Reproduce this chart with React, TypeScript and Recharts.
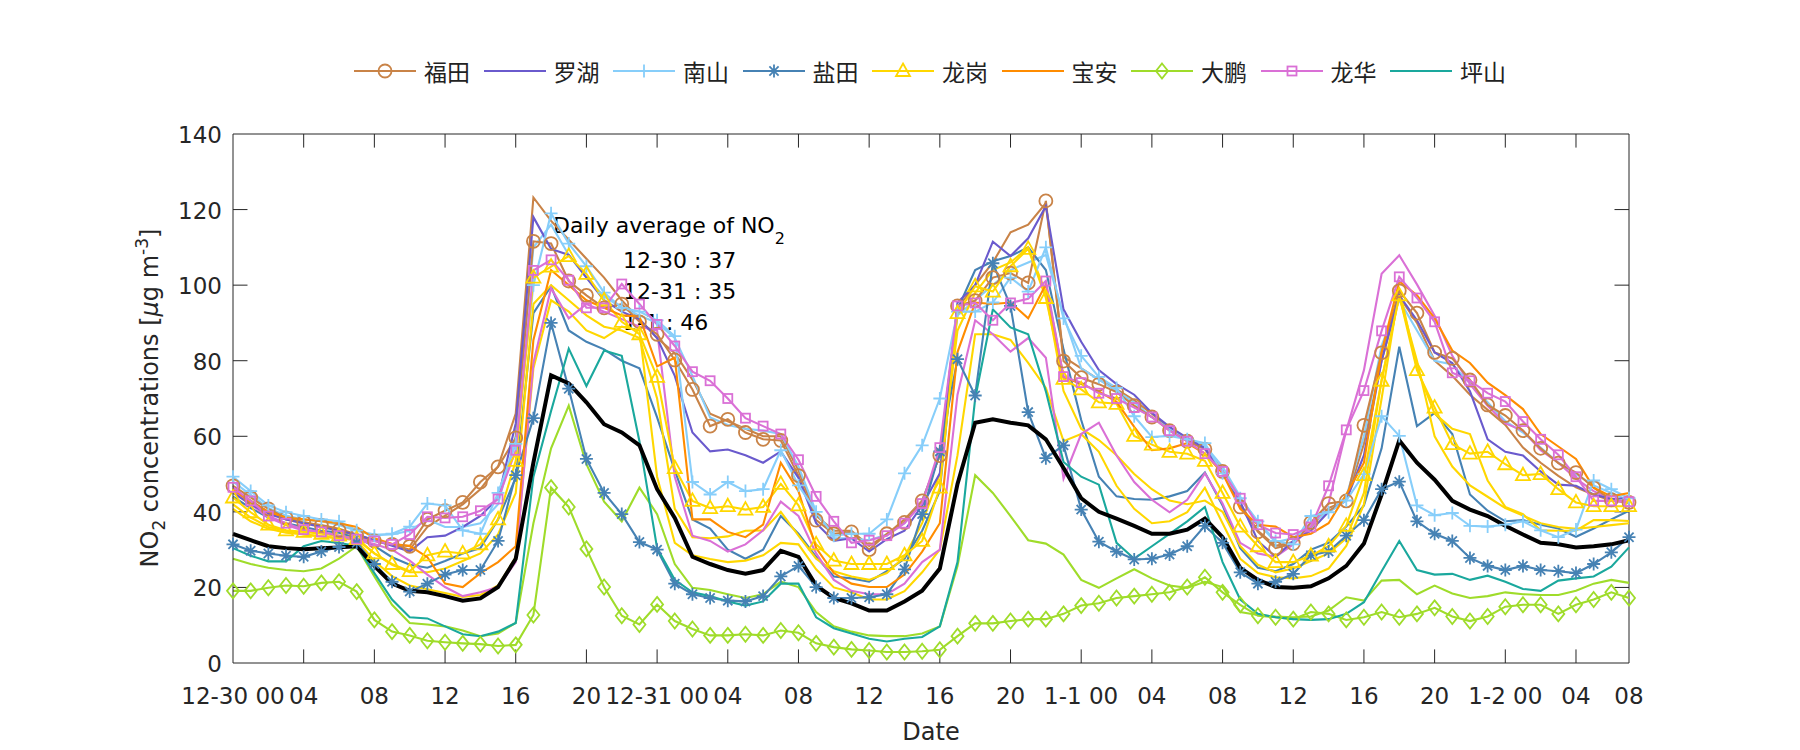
import React from 'react'
import { LineChart, Line, XAxis, YAxis, ReferenceLine } from 'recharts'

// ============================================
// Hourly NO2 (ug/m3), 12-30 00:00 -> 1-2 07:00, 80 points per line
// ============================================

const FUTIAN = [
  46.9, 43.8, 40.8, 38.4, 37.3, 36.4, 35.1, 33.7, 32.3, 31.4, 30.9, 38.0, 40.3, 42.5, 47.9, 51.9, 59.6, 111.6, 111.0, 101.1, 97.3,
  94.0, 95.0, 90.3, 87.0, 80.2, 72.4, 62.7, 64.5, 61.0, 59.2, 58.9, 49.6, 37.8, 34.2, 34.7, 30.0, 34.2, 37.2, 42.9, 54.9,
  94.5, 95.9, 102.0, 103.2, 100.6, 122.3, 79.9, 75.5, 73.8, 71.7, 68.1, 65.1, 61.5, 58.7, 56.6, 50.7, 41.3, 34.7, 30.4, 31.6,
  37.2, 42.2, 42.9, 62.9, 82.1, 98.5, 92.6, 82.2, 80.6, 74.9, 68.3, 65.5, 61.5, 56.8, 52.9, 50.4, 46.4, 43.2, 42.5,
]
const LUOHU = [
  45.0, 42.0, 39.5, 38.0, 37.0, 36.0, 35.0, 34.0, 32.5, 31.0, 29.5, 33.3, 33.7, 36.0, 38.9, 43.6, 63.4, 118.0, 109.6, 108.0, 102.0,
  96.0, 93.0, 91.0, 86.0, 76.0, 61.0, 56.0, 56.5, 55.0, 53.0, 56.0, 49.0, 37.0, 32.3, 33.0, 29.5, 32.8, 35.0, 41.7, 50.2,
  95.4, 100.0, 111.5, 107.7, 112.4, 120.9, 93.6, 85.0, 77.5, 73.8, 71.0, 66.2, 62.5, 59.6, 56.8, 50.2, 42.7, 32.3, 28.1, 32.3,
  35.0, 40.0, 43.0, 55.0, 80.0, 97.3, 90.7, 82.2, 79.4, 71.9, 59.2, 55.9, 54.9, 50.7, 47.2, 46.9, 44.6, 43.4, 43.6,
]
const NANSHAN = [
  49.3, 45.5, 41.7, 39.9, 38.9, 38.0, 37.5, 35.1, 33.7, 34.2, 36.1, 42.2, 41.7, 35.1, 34.2, 45.0, 58.0, 100.0, 119.0, 111.0, 105.0,
  98.0, 94.0, 93.0, 90.7, 86.5, 47.9, 44.6, 47.9, 45.5, 46.0, 56.3, 47.0, 40.0, 33.7, 34.2, 34.2, 38.0, 50.2, 57.6, 70.0,
  93.0, 93.0, 95.4, 102.0, 98.3, 110.0, 91.2, 81.3, 75.7, 72.8, 65.3, 59.8, 60.1, 59.2, 58.2, 50.2, 43.6, 37.5, 32.3, 31.4,
  38.9, 39.9, 43.0, 50.0, 65.3, 60.1, 41.7, 39.1, 39.7, 36.3, 36.1, 36.6, 37.5, 35.1, 33.3, 35.3, 48.3, 46.0, 43.6,
]
const YANTIAN = [
  31.4, 29.7, 29.0, 28.4, 28.1, 29.5, 30.7, 31.8, 26.2, 21.5, 18.9, 21.0, 23.4, 24.6, 24.6, 32.3, 49.7, 64.8, 90.0, 72.6, 54.0,
  45.0, 39.4, 32.0, 30.0, 21.0, 18.2, 17.2, 16.5, 16.3, 17.7, 22.9, 25.7, 20.1, 17.2, 17.2, 17.4, 18.2, 24.8, 39.4, 56.0,
  80.4, 70.8, 105.8, 94.5, 66.4, 54.2, 57.6, 40.6, 32.1, 29.5, 27.4, 27.6, 28.7, 30.9, 36.3, 31.8, 24.0, 21.0, 21.5, 23.6,
  28.5, 29.5, 33.7, 37.8, 46.0, 48.0, 37.5, 34.2, 32.3, 27.8, 25.7, 24.6, 25.7, 24.6, 24.3, 23.8, 26.2, 29.3, 33.3,
]
const LONGGANG = [
  43.8, 39.9, 36.6, 35.1, 34.7, 34.2, 33.7, 32.8, 29.0, 26.2, 24.3, 28.5, 29.5, 29.0, 31.4, 38.0, 53.5, 102.0, 104.9, 107.7, 103.0,
  96.0, 90.3, 87.0, 75.7, 51.6, 42.9, 41.0, 41.5, 40.6, 41.3, 47.4, 41.7, 31.4, 27.1, 26.2, 26.2, 26.2, 28.5, 32.3, 46.4,
  92.6, 99.7, 98.3, 105.0, 109.6, 96.6, 75.2, 72.4, 69.0, 68.6, 60.1, 57.8, 55.9, 55.4, 53.5, 45.0, 36.1, 30.9, 26.7, 26.7,
  28.4, 30.9, 36.3, 49.7, 74.7, 97.3, 77.5, 67.6, 57.9, 55.4, 55.9, 52.6, 49.7, 50.0, 46.0, 42.5, 41.5, 41.5, 41.5,
]
const BAOAN = [
  46.0, 42.5, 40.0, 38.5, 38.0, 37.5, 37.0, 36.0, 33.0, 31.5, 31.0, 28.0, 21.0, 20.1, 23.8, 26.7, 30.9, 85.5, 104.0, 100.0, 96.0,
  94.0, 92.0, 91.7, 78.5, 80.8, 38.0, 38.0, 34.7, 33.3, 36.6, 53.0, 45.5, 30.4, 23.8, 21.0, 20.1, 20.1, 23.4, 29.5, 37.0,
  82.3, 95.4, 95.0, 95.4, 91.2, 100.2, 75.7, 73.8, 71.9, 69.1, 62.5, 56.3, 56.8, 58.2, 55.4, 50.2, 40.8, 36.6, 36.1, 33.3,
  34.2, 37.0, 44.6, 53.0, 82.3, 101.0, 97.3, 91.2, 82.7, 79.4, 74.2, 70.9, 67.2, 60.6, 57.3, 54.0, 46.4, 44.1, 45.0,
]
const DAPENG = [
  19.1, 19.1, 19.9, 20.5, 20.3, 21.2, 21.5, 18.9, 11.4, 8.3, 7.3, 5.9, 5.5, 5.2, 5.0, 4.5, 4.8, 12.7, 46.4, 41.3, 30.2,
  20.1, 12.5, 10.2, 15.5, 11.1, 9.0, 7.3, 7.3, 7.6, 7.3, 8.6, 8.0, 5.2, 4.2, 3.6, 3.3, 2.9, 2.9, 3.1, 3.5,
  7.1, 10.5, 10.5, 11.1, 11.6, 11.6, 13.0, 15.2, 15.8, 17.2, 17.7, 18.2, 18.7, 20.1, 22.7, 18.7, 15.4, 12.5, 12.1, 11.6,
  13.5, 13.0, 11.4, 12.1, 13.5, 12.1, 13.0, 14.6, 12.3, 11.1, 12.3, 14.9, 15.4, 15.4, 13.0, 15.4, 16.8, 18.7, 17.2,
]
const LONGHUA = [
  46.5, 42.9, 38.9, 37.0, 35.3, 34.7, 33.7, 32.8, 32.3, 31.4, 34.0, 38.7, 38.4, 38.7, 40.3, 43.4, 56.3, 103.9, 106.7, 101.3, 94.0,
  94.0, 100.3, 95.0, 89.6, 83.9, 77.1, 74.7, 70.0, 64.8, 62.7, 60.6, 53.8, 44.1, 37.5, 31.8, 32.5, 33.7, 37.0, 42.2, 57.0,
  94.5, 95.3, 90.7, 95.3, 96.4, 101.1, 75.8, 74.2, 71.4, 70.0, 67.6, 65.1, 61.5, 58.7, 55.4, 50.7, 43.6, 36.6, 34.4, 34.0,
  36.0, 46.9, 61.7, 72.1, 87.9, 102.2, 96.6, 90.3, 76.8, 74.7, 71.4, 69.2, 63.9, 59.2, 55.1, 49.3, 42.9, 42.9, 42.7,
]
const PINGSHAN = [
  30.4, 28.4, 26.9, 26.9, 30.9, 32.3, 31.8, 30.9, 23.8, 16.8, 12.1, 11.8, 9.7, 7.6, 7.1, 8.3, 10.6, 49.3, 66.7, 83.2, 73.3,
  82.7, 81.3, 58.7, 30.4, 22.0, 18.7, 17.7, 16.3, 15.2, 16.3, 21.0, 21.0, 12.1, 9.2, 7.8, 6.4, 5.7, 6.4, 6.9, 9.7,
  26.7, 70.0, 93.6, 88.8, 87.0, 71.9, 53.2, 49.3, 47.2, 31.8, 27.6, 30.9, 34.2, 37.5, 41.3, 26.7, 16.8, 13.0, 12.1, 11.6,
  11.4, 11.6, 13.0, 16.1, 24.3, 32.3, 24.6, 23.4, 23.6, 22.0, 23.1, 21.5, 19.6, 19.1, 21.8, 22.4, 22.9, 25.5, 30.6,
]

// second stations of some districts (drawn without markers)
const FUTIAN_2 = [
  46.0, 43.0, 40.0, 38.0, 37.0, 36.5, 35.5, 34.0, 32.5, 31.5, 30.0, 36.0, 39.0, 42.0, 46.0, 52.0, 66.0, 123.2, 117.0, 112.0, 107.0,
  102.0, 96.0, 91.0, 86.0, 82.0, 75.0, 66.0, 64.0, 62.0, 60.0, 60.0, 51.0, 39.0, 35.0, 35.0, 31.0, 34.0, 38.0, 43.0, 55.0,
  94.0, 100.0, 106.0, 114.0, 116.0, 121.7, 81.0, 78.0, 75.0, 72.5, 69.5, 66.0, 62.0, 59.0, 57.0, 51.0, 42.0, 35.0, 31.0, 32.0,
  36.0, 41.0, 43.0, 58.0, 80.0, 97.0, 90.0, 80.0, 76.0, 71.0, 67.0, 63.0, 57.0, 53.0, 49.5, 46.5, 44.5, 43.0, 42.5,
]
const NANSHAN_2 = [
  48.0, 44.5, 41.0, 39.0, 38.0, 37.5, 36.5, 35.0, 34.0, 34.0, 35.0, 38.0, 36.0, 36.0, 37.0, 42.0, 60.0, 110.0, 116.0, 108.0, 102.0,
  97.0, 94.0, 92.0, 90.0, 86.0, 76.0, 65.0, 63.0, 62.0, 61.5, 60.6, 52.0, 40.0, 33.0, 33.0, 32.5, 34.0, 37.0, 43.0, 55.0,
  92.0, 96.0, 100.0, 104.0, 106.0, 108.0, 92.0, 78.0, 75.0, 72.0, 69.0, 65.0, 62.0, 59.5, 57.5, 52.0, 44.0, 37.0, 32.0, 33.0,
  37.0, 40.0, 44.0, 60.0, 84.0, 96.0, 88.0, 80.0, 79.0, 74.0, 69.0, 64.0, 61.0, 57.0, 53.0, 50.0, 47.0, 45.0, 43.0,
]
const YANTIAN_2 = [
  44.0, 41.0, 38.5, 37.0, 36.0, 35.0, 34.5, 33.0, 31.0, 28.0, 26.0, 25.2, 27.0, 29.0, 30.4, 38.0, 49.0, 92.6, 99.7, 88.0, 85.0,
  83.0, 80.0, 78.0, 65.0, 51.0, 38.0, 35.6, 30.0, 27.6, 30.0, 38.9, 34.2, 28.1, 22.9, 22.4, 21.5, 24.3, 27.6, 35.0, 45.5,
  93.6, 104.0, 106.3, 107.7, 110.0, 104.0, 83.0, 64.3, 49.3, 44.1, 43.4, 43.2, 44.1, 45.5, 50.4, 41.7, 30.4, 25.2, 24.3, 26.2,
  30.0, 31.8, 36.1, 41.7, 56.8, 83.7, 62.7, 66.2, 60.6, 44.6, 40.3, 37.5, 37.8, 36.6, 35.6, 33.4, 35.6, 38.0, 40.3,
]
const LONGGANG_2 = [
  40.8, 37.5, 35.5, 34.5, 34.0, 33.5, 33.0, 32.5, 27.0, 23.0, 20.5, 19.5, 18.5, 17.5, 18.0, 20.5, 28.0, 78.0, 96.0, 93.0, 88.0,
  86.0, 89.0, 88.0, 49.3, 31.8, 28.5, 27.5, 26.7, 27.1, 28.5, 31.8, 31.4, 24.8, 20.0, 18.7, 16.8, 16.8, 19.0, 24.0, 30.0,
  55.0, 87.0, 87.0, 85.5, 79.4, 72.8, 58.7, 60.6, 55.9, 46.9, 40.8, 37.0, 37.5, 39.9, 46.4, 37.0, 27.6, 23.8, 22.7, 22.4,
  23.0, 25.0, 31.0, 42.0, 70.0, 99.0, 78.0, 66.0, 62.0, 60.6, 48.3, 41.3, 39.4, 35.1, 35.0, 35.0, 37.8, 37.8, 37.6,
]
const LONGGANG_3 = [
  42.0, 38.5, 36.0, 35.0, 34.0, 33.5, 33.0, 33.0, 29.0, 26.0, 24.0, 24.0, 25.0, 27.0, 29.0, 34.0, 45.0, 95.0, 100.0, 96.0, 92.0,
  89.0, 88.0, 86.0, 70.0, 40.8, 33.3, 33.0, 33.5, 35.0, 35.1, 40.0, 33.7, 27.6, 24.3, 22.9, 22.0, 23.8, 28.1, 37.0, 50.0,
  88.0, 98.0, 104.0, 106.0, 110.0, 98.0, 72.0, 62.0, 59.0, 55.0, 50.0, 46.0, 43.0, 42.0, 43.0, 40.0, 31.0, 26.0, 24.0, 25.0,
  27.0, 29.0, 33.0, 45.0, 75.0, 97.0, 80.0, 60.0, 52.0, 47.0, 44.0, 41.0, 39.0, 37.0, 36.0, 35.5, 36.0, 36.5, 37.0,
]
const LONGHUA_2 = [
  45.5, 42.0, 38.5, 36.5, 35.0, 34.5, 33.5, 32.5, 31.5, 30.0, 27.1, 23.4, 20.1, 17.7, 18.7, 20.1, 26.7, 79.4, 99.2, 91.2, 95.0,
  93.0, 91.0, 89.0, 88.0, 49.3, 33.7, 32.3, 29.5, 31.4, 35.1, 42.7, 38.9, 29.0, 22.0, 19.1, 18.2, 18.2, 21.0, 26.7, 30.0,
  71.0, 90.7, 87.0, 82.4, 86.0, 80.8, 48.8, 60.6, 63.6, 54.9, 47.9, 43.2, 39.9, 43.2, 50.2, 42.2, 31.8, 29.0, 28.1, 31.4,
  36.1, 42.2, 61.5, 77.5, 103.0, 107.9, 100.2, 91.9, 81.3, 73.8, 68.1, 63.4, 61.5, 56.3, 53.0, 48.8, 45.5, 43.2, 42.2,
]
const DAPENG_2 = [
  27.6, 26.2, 25.2, 24.6, 24.3, 25.0, 27.6, 30.9, 22.9, 15.4, 10.6, 10.2, 9.7, 8.6, 7.1, 7.8, 10.6, 37.0, 56.8, 68.1, 52.6,
  42.7, 37.5, 46.4, 39.4, 26.2, 19.9, 19.3, 18.2, 17.2, 18.2, 21.5, 20.1, 13.5, 9.7, 8.3, 7.3, 7.1, 7.1, 7.8, 9.7,
  25.7, 49.7, 45.0, 38.9, 32.5, 31.6, 28.7, 22.0, 19.9, 22.4, 24.8, 22.4, 20.5, 19.9, 21.5, 20.1, 13.5, 12.7, 12.3, 12.1,
  12.3, 13.9, 17.4, 16.5, 21.8, 22.0, 18.2, 20.5, 18.4, 17.2, 17.7, 18.7, 18.2, 18.0, 18.0, 19.1, 21.0, 22.0, 21.2,
]

// city-wide mean (thick black)
const CITY_MEAN = [
  34.2, 32.5, 30.9, 30.4, 30.1, 30.4, 30.6, 30.9, 25.7, 21.0, 19.1, 18.7, 17.7, 16.5, 17.1, 20.1, 27.6, 53.0, 76.1, 74.0, 69.0,
  63.2, 61.0, 57.6, 46.0, 38.4, 28.1, 26.2, 24.6, 23.6, 24.6, 29.7, 28.1, 20.5, 17.2, 15.8, 13.9, 13.9, 16.3, 19.1, 25.0,
  47.4, 63.6, 64.5, 63.6, 62.9, 59.2, 51.6, 43.6, 40.0, 38.2, 36.3, 34.2, 34.2, 35.3, 38.2, 33.3, 25.2, 22.0, 20.1, 19.9,
  20.3, 22.4, 25.7, 31.6, 44.6, 58.9, 53.0, 48.5, 42.9, 40.6, 38.9, 36.3, 34.0, 31.8, 31.4, 30.6, 30.9, 31.4, 32.5,
]

const TICK_HOURS = [0, 4, 8, 12, 16, 20, 24, 28, 32, 36, 40, 44, 48, 52, 56, 60, 64, 68, 72, 76, 79]
const TICK_LABELS = [
  '12-30 00', '04', '08', '12', '16', '20',
  '12-31 00', '04', '08', '12', '16', '20',
  '1-1 00', '04', '08', '12', '16', '20',
  '1-2 00', '04', '08',
]
const Y_TICKS = [0, 20, 40, 60, 80, 100, 120, 140]
const DAILY_MEANS: Array<[string, number]> = [['12-30', 37], ['12-31', 35], ['1-1', 46]]

// ============================================
// Styling
// ============================================

const AXIS = '#262626'
const FONT = '"DejaVu Sans", "Liberation Sans", sans-serif'
const CJK = '"Noto Sans CJK SC", "Noto Sans", sans-serif'

type MarkerKind = 'circle' | 'plus' | 'star' | 'triangle' | 'diamond' | 'square' | null

interface Series {
  key: string
  name?: string
  color: string
  marker: MarkerKind
  values: number[]
  width?: number
}

const MAIN: Series[] = [
  { key: 'futian', name: '福田', color: '#c98347', marker: 'circle', values: FUTIAN },
  { key: 'luohu', name: '罗湖', color: '#6a5acd', marker: null, values: LUOHU },
  { key: 'nanshan', name: '南山', color: '#87cefa', marker: 'plus', values: NANSHAN },
  { key: 'yantian', name: '盐田', color: '#4682b4', marker: 'star', values: YANTIAN },
  { key: 'longgang', name: '龙岗', color: '#ffd700', marker: 'triangle', values: LONGGANG },
  { key: 'baoan', name: '宝安', color: '#ff8c00', marker: null, values: BAOAN },
  { key: 'dapeng', name: '大鹏', color: '#9fdc2a', marker: 'diamond', values: DAPENG },
  { key: 'longhua', name: '龙华', color: '#da70d6', marker: 'square', values: LONGHUA },
  { key: 'pingshan', name: '坪山', color: '#1aa89d', marker: null, values: PINGSHAN },
]

const EXTRA: Series[] = [
  { key: 'futian2', color: '#c98347', marker: null, values: FUTIAN_2 },
  { key: 'nanshan2', color: '#87cefa', marker: null, values: NANSHAN_2 },
  { key: 'yantian2', color: '#4682b4', marker: null, values: YANTIAN_2 },
  { key: 'longgang2', color: '#ffd700', marker: null, values: LONGGANG_2 },
  { key: 'longgang3', color: '#ffd700', marker: null, values: LONGGANG_3 },
  { key: 'longhua2', color: '#da70d6', marker: null, values: LONGHUA_2 },
  { key: 'dapeng2', color: '#9fdc2a', marker: null, values: DAPENG_2 },
]

const MEAN: Series = { key: 'mean', color: '#000000', marker: null, values: CITY_MEAN, width: 4 }

const ALL = [...EXTRA, ...MAIN, MEAN]

const rows = CITY_MEAN.map((_, i) => {
  const row: Record<string, number> = { h: i }
  ALL.forEach(s => { row[s.key] = s.values[i] })
  return row
})

// ============================================
// Markers
// ============================================

function Marker({ kind, cx, cy, color }: { kind: MarkerKind; cx?: number; cy?: number; color: string }) {
  if (kind == null || cx == null || cy == null) return null
  const common = { fill: 'none', stroke: color, strokeWidth: 1.8 }
  switch (kind) {
    case 'circle':
      return <circle cx={cx} cy={cy} r={6.5} {...common} />
    case 'plus':
      return <path d={`M${cx - 6.5},${cy}H${cx + 6.5}M${cx},${cy - 6.5}V${cy + 6.5}`} {...common} />
    case 'star':
      return (
        <path
          d={`M${cx - 6.5},${cy}H${cx + 6.5}M${cx},${cy - 6.5}V${cy + 6.5}M${cx - 4.6},${cy - 4.6}L${cx + 4.6},${cy + 4.6}M${cx - 4.6},${cy + 4.6}L${cx + 4.6},${cy - 4.6}`}
          {...common}
        />
      )
    case 'triangle':
      return <path d={`M${cx},${cy - 7.5}L${cx + 7},${cy + 5}L${cx - 7},${cy + 5}Z`} {...common} />
    case 'diamond':
      return <path d={`M${cx},${cy - 7.5}L${cx + 6},${cy}L${cx},${cy + 7.5}L${cx - 6},${cy}Z`} {...common} />
    case 'square':
      return <rect x={cx - 4.5} y={cy - 4.5} width={9} height={9} {...common} />
  }
  return null
}

const dotFor = (s: Series) =>
  s.marker
    ? (p: any) => <Marker key={`${s.key}-${p.index}`} kind={s.marker} cx={p.cx} cy={p.cy} color={s.color} />
    : false

const XTick = (p: any) => {
  const i = TICK_HOURS.indexOf(p.payload.value)
  return (
    <text x={p.x} y={p.y + 41} textAnchor="middle" fontSize={23} fontFamily={FONT} fill={AXIS}>
      {TICK_LABELS[i]}
    </text>
  )
}

const YTick = (p: any) => (
  <text x={p.x - 11} y={p.y + 9} textAnchor="end" fontSize={23} fontFamily={FONT} fill={AXIS}>
    {p.payload.value}
  </text>
)

// ============================================
// Main Component
// ============================================

export default function App() {
  const inX = 0.82
  const inY = 3.6

  return (
    <div style={{ position: 'absolute', left: 0, top: 0, width: 1800, height: 750, background: '#fff', overflow: 'hidden' }}>
      {/* texts under the lines */}
      <svg width={1800} height={750} style={{ position: 'absolute', left: 0, top: 0 }}>
        <g fontFamily={FONT} fill="#000">
          <text x={553} y={233} fontSize={22}>
            Daily average of NO<tspan dy={11} fontSize={16}>2</tspan>
          </text>
          {DAILY_MEANS.map(([day, v], i) => (
            <text key={day} x={623} y={268 + i * 31} fontSize={22}>
              {`${day} : ${v}`}
            </text>
          ))}
        </g>
        <g fontFamily={FONT} fill={AXIS}>
          <text x={931} y={740} fontSize={24} textAnchor="middle">Date</text>
          <text x={158} y={398} fontSize={24} textAnchor="middle" transform="rotate(-90 158 398)">
            NO<tspan dy={7} fontSize={17}>2</tspan>
            <tspan dy={-7}> concentrations [</tspan>
            <tspan fontStyle="italic">μ</tspan>
            <tspan>g m</tspan>
            <tspan dy={-10} fontSize={17}>-3</tspan>
            <tspan dy={10}>]</tspan>
          </text>
        </g>
      </svg>

      <div style={{ position: 'absolute', left: 0, top: 0 }}>
        <LineChart width={1800} height={750} data={rows} margin={{ top: 134, right: 171, bottom: 27, left: 153 }}>
          <XAxis
            dataKey="h"
            type="number"
            domain={[0, 79]}
            ticks={TICK_HOURS}
            interval={0}
            height={60}
            tickSize={0}
            tickMargin={0}
            tickLine={false}
            axisLine={{ stroke: AXIS }}
            tick={XTick}
          />
          <YAxis
            type="number"
            domain={[0, 140]}
            ticks={Y_TICKS}
            interval={0}
            width={80}
            tickSize={0}
            tickMargin={0}
            tickLine={false}
            axisLine={{ stroke: AXIS }}
            tick={YTick}
          />

          {/* box + inward ticks */}
          <ReferenceLine y={140} stroke={AXIS} />
          <ReferenceLine x={79} stroke={AXIS} />
          {TICK_HOURS.slice(1, -1).map(t => (
            <ReferenceLine key={`b${t}`} segment={[{ x: t, y: 0 }, { x: t, y: inY }]} stroke={AXIS} />
          ))}
          {TICK_HOURS.slice(1, -1).map(t => (
            <ReferenceLine key={`t${t}`} segment={[{ x: t, y: 140 }, { x: t, y: 140 - inY }]} stroke={AXIS} />
          ))}
          {Y_TICKS.slice(1, -1).map(v => (
            <ReferenceLine key={`l${v}`} segment={[{ x: 0, y: v }, { x: inX, y: v }]} stroke={AXIS} />
          ))}
          {Y_TICKS.slice(1, -1).map(v => (
            <ReferenceLine key={`r${v}`} segment={[{ x: 79, y: v }, { x: 79 - inX, y: v }]} stroke={AXIS} />
          ))}

          {ALL.map(s => (
            <Line
              key={s.key}
              dataKey={s.key}
              type="linear"
              stroke={s.color}
              strokeWidth={s.width ?? 2.1}
              dot={dotFor(s)}
              activeDot={false}
              isAnimationActive={false}
            />
          ))}
        </LineChart>
      </div>

      {/* Legend */}
      <div style={{ position: 'absolute', left: 354, top: 59, display: 'flex', alignItems: 'center' }}>
        {MAIN.map((s, i) => (
          <div key={s.key} style={{ display: 'flex', alignItems: 'center', marginRight: i < MAIN.length - 1 ? 13.5 : 0 }}>
            <svg width={62} height={24}>
              <line x1={0} y1={12} x2={62} y2={12} stroke={s.color} strokeWidth={2.1} />
              <Marker kind={s.marker} cx={31} cy={12} color={s.color} />
            </svg>
            <span style={{ marginLeft: 8, fontFamily: CJK, fontSize: 23, lineHeight: '24px', color: '#222', width: 46, whiteSpace: 'nowrap' }}>
              {s.name}
            </span>
          </div>
        ))}
      </div>
    </div>
  )
}
